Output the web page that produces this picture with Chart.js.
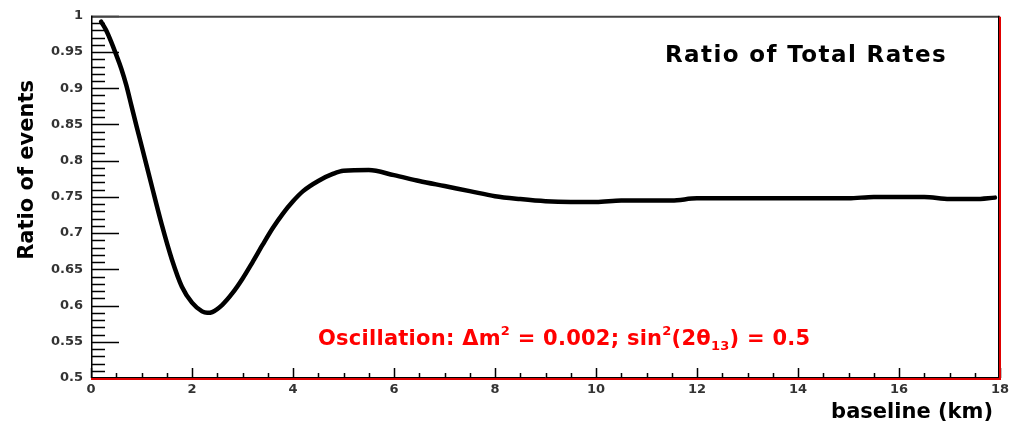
<!DOCTYPE html>
<html>
<head>
<meta charset="utf-8">
<script src="https://cdn.jsdelivr.net/npm/chart.js@4/dist/chart.umd.min.js"></script>
<style>
html,body{margin:0;padding:0;background:#fff;}
#wrap{width:1020px;height:425px;position:relative;}
</style>
</head>
<body>
<div id="wrap"><canvas id="c" width="1020" height="425"></canvas></div>
<script>
// baseline in km
const baselineKm = [0.2, 0.3, 0.4, 0.5, 0.6, 0.7, 0.8, 0.9, 1.0, 1.2, 1.4, 1.6, 1.8, 2.0, 2.2, 2.3, 2.4, 2.6, 2.8, 3.0, 3.2, 3.4, 3.6, 3.8, 4.0, 4.2, 4.5, 4.8, 5.0, 5.5, 6.0, 6.5, 7.0, 7.5, 8.0, 8.5, 9.0, 9.5, 10.0, 10.5, 11.0, 11.5, 12.0, 13.0, 14.0, 15.0, 15.5, 16.0, 16.5, 17.0, 17.5, 17.9];
// ratio of total rates
const ratioOfEvents = [0.992, 0.980, 0.964, 0.946, 0.927, 0.904, 0.876, 0.848, 0.821, 0.766, 0.712, 0.664, 0.626, 0.604, 0.592, 0.590, 0.591, 0.601, 0.617, 0.637, 0.660, 0.684, 0.707, 0.727, 0.744, 0.758, 0.772, 0.782, 0.786, 0.787, 0.780, 0.772, 0.765, 0.758, 0.751, 0.747, 0.744, 0.743, 0.743, 0.745, 0.745, 0.745, 0.748, 0.748, 0.748, 0.748, 0.750, 0.750, 0.750, 0.747, 0.747, 0.749];
const xTickLabels = ["0", "2", "4", "6", "8", "10", "12", "14", "16", "18"];
const yTickLabels = ["0.5", "0.55", "0.6", "0.65", "0.7", "0.75", "0.8", "0.85", "0.9", "0.95", "1"];

const points = baselineKm.map((x, i) => ({x: x, y: ratioOfEvents[i]}));
const FONT = "'DejaVu Sans', sans-serif";

const rootStyle = {
  id: 'rootStyle',
  afterDraw(chart) {
    const ctx = chart.ctx;
    const a = chart.chartArea;
    const xs = chart.scales.x, ys = chart.scales.y;
    ctx.save();
    // minor / major ticks on y (inward)
    ctx.strokeStyle = '#000';
    ctx.lineWidth = 1.5;
    ctx.beginPath();
    for (let k = 0; k <= 50; k++) {
      const v = 0.5 + k * 0.01;
      const py = Math.round(ys.getPixelForValue(v)) + 0.5;
      const len = (k % 5 === 0) ? 28 : 14;
      ctx.moveTo(a.left, py); ctx.lineTo(a.left + len, py);
    }
    // ticks on x (inward, up)
    for (let k = 0; k <= 36; k++) {
      const v = k * 0.5;
      const px = Math.round(xs.getPixelForValue(v)) + 0.5;
      const len = (k % 4 === 0) ? 10 : 5;
      ctx.moveTo(px, a.bottom); ctx.lineTo(px, a.bottom - len);
    }
    ctx.stroke();
    // frame
    ctx.lineWidth = 2; ctx.strokeStyle = '#444';
    ctx.beginPath(); ctx.moveTo(a.left, a.top + 1); ctx.lineTo(a.right, a.top + 1); ctx.stroke();
    ctx.lineWidth = 1.5; ctx.strokeStyle = '#000';
    ctx.beginPath(); ctx.moveTo(a.left + 0.75, a.top); ctx.lineTo(a.left + 0.75, a.bottom + 1); ctx.stroke();
    ctx.lineWidth = 1; ctx.strokeStyle = '#000';
    ctx.beginPath(); ctx.moveTo(a.left, a.bottom - 0.5); ctx.lineTo(a.right, a.bottom - 0.5); ctx.stroke();
    ctx.beginPath(); ctx.moveTo(a.right - 1.5, a.top); ctx.lineTo(a.right - 1.5, a.bottom); ctx.stroke();
    ctx.lineWidth = 2; ctx.strokeStyle = '#e00000';
    ctx.beginPath(); ctx.moveTo(a.left, a.bottom + 1); ctx.lineTo(a.right + 1, a.bottom + 1); ctx.stroke();
    ctx.beginPath(); ctx.moveTo(a.right, a.top + 1); ctx.lineTo(a.right, a.bottom + 2); ctx.stroke();

    // title
    ctx.fillStyle = '#000';
    ctx.textBaseline = 'alphabetic';
    ctx.textAlign = 'left';
    ctx.font = 'bold 23px ' + FONT;
    ctx.letterSpacing = '1.4px';
    ctx.fillText('Ratio of Total Rates', 665, 62);
    ctx.letterSpacing = '0px';

    // axis titles
    ctx.font = 'bold 21px ' + FONT;
    ctx.textAlign = 'right';
    ctx.fillText('baseline (km)', 993, 418);
    ctx.save();
    ctx.translate(33, 80);
    ctx.rotate(-Math.PI / 2);
    ctx.textAlign = 'right';
    ctx.fillText('Ratio of events', 0, 0);
    ctx.restore();

    // red annotation with super/subscripts
    ctx.fillStyle = '#ff0000';
    ctx.textAlign = 'left';
    ctx.letterSpacing = '0.25px';
    const big = 'bold 21px ' + FONT, small = 'bold 13px ' + FONT;
    const parts = [
      ['Oscillation: \u0394m', big, 0],
      ['2', small, -10],
      [' = 0.002; sin', big, 0],
      ['2', small, -10],
      ['(2\u03b8', big, 0],
      ['13', small, 5],
      [') = 0.5', big, 0]
    ];
    let x = 318;
    const base = 345;
    for (const [t, f, dy] of parts) {
      ctx.font = f;
      ctx.fillText(t, x, base + dy);
      x += ctx.measureText(t).width;
    }
    ctx.letterSpacing = '0px';
    ctx.restore();
  }
};

new Chart(document.getElementById('c'), {
  type: 'line',
  data: {
    datasets: [{
      data: points,
      borderColor: '#000',
      borderWidth: 4.5,
      pointRadius: 0,
      fill: false,
      cubicInterpolationMode: 'monotone',
      borderCapStyle: 'round',
      borderJoinStyle: 'round'
    }]
  },
  options: {
    responsive: false,
    animation: false,
    layout: {padding: {left: 0, right: 20, top: 15, bottom: 0}},
    plugins: {legend: {display: false}, tooltip: {enabled: false}, title: {display: false}},
    scales: {
      x: {
        type: 'linear', min: 0, max: 18,
        grid: {display: false, drawTicks: false},
        border: {display: false},
        afterFit(s) { s.height = 47; },
        afterBuildTicks(s) { s.ticks = xTickLabels.map(t => ({value: Number(t)})); },
        ticks: {
          autoSkip: false, maxRotation: 0, padding: 4,
          color: '#333', font: {family: FONT, size: 13, weight: 'bold'},
          callback: (v) => xTickLabels.find(t => Number(t) === v) || ''
        }
      },
      y: {
        type: 'linear', min: 0.5, max: 1,
        grid: {display: false, drawTicks: false},
        border: {display: false},
        afterFit(s) { s.width = 91; },
        afterBuildTicks(s) { s.ticks = yTickLabels.map(t => ({value: Number(t)})); },
        ticks: {
          autoSkip: false, padding: 8,
          color: '#333', font: {family: FONT, size: 13, weight: 'bold'},
          callback: (v) => yTickLabels.find(t => Math.abs(Number(t) - v) < 1e-9) || ''
        }
      }
    }
  },
  plugins: [rootStyle]
});
</script>
</body>
</html>
